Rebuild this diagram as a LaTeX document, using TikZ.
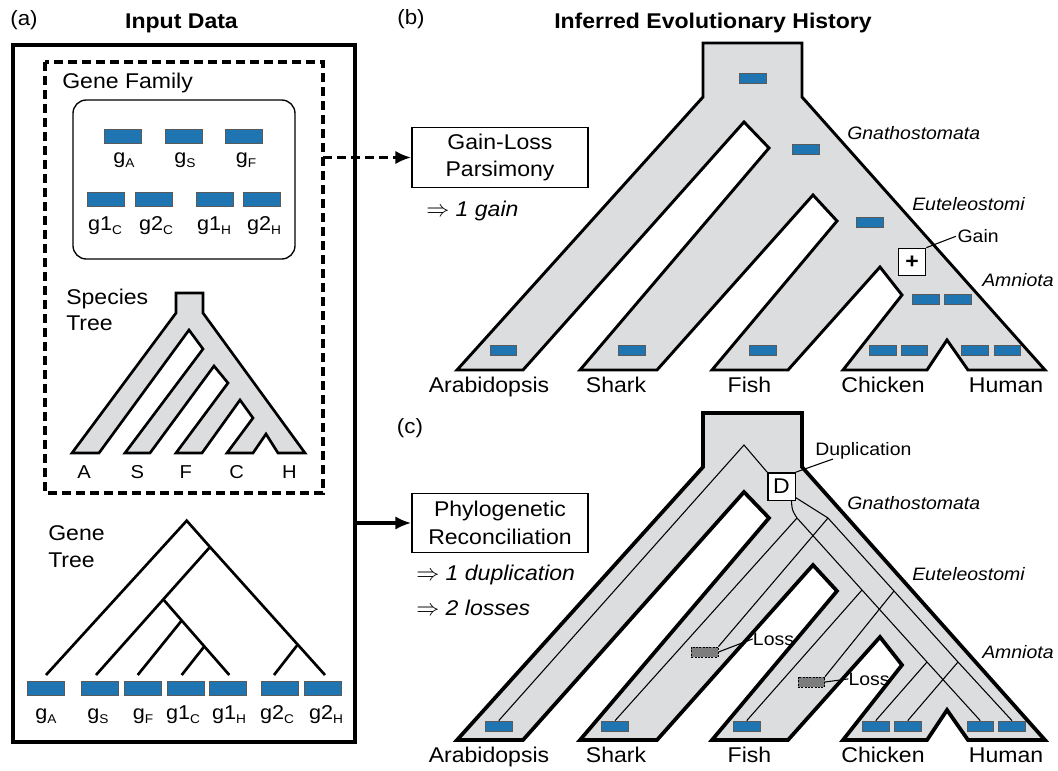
\documentclass[tikz,border=0pt]{standalone}
\usepackage{fontspec}
\setmainfont{Liberation Sans}[FakeStretch=1.08]
\usepackage{tikz}
\usepackage{xcolor}
\usetikzlibrary{arrows.meta,calc}

\definecolor{geneblue}{RGB}{31,117,178}
\definecolor{treegray}{RGB}{220,221,223}
\definecolor{lossgray}{RGB}{125,125,125}
\definecolor{geneedge}{RGB}{90,90,90}
\newcommand{\gsb}[1]{\raisebox{-0.45ex}{\fontsize{9.5}{10}\selectfont #1}}

\begin{document}
\begin{tikzpicture}[x=0.75pt,y=0.75pt,yscale=-1,
  txt/.style={inner sep=0pt,anchor=base,font=\fontsize{16}{19}\selectfont},
  txtw/.style={txt,anchor=base west},
  clade/.style={inner sep=0pt,anchor=base west,font=\fontsize{13.5}{16}\selectfont\itshape},
  note/.style={inner sep=0pt,anchor=base west,font=\fontsize{13.5}{16}\selectfont},
  glab/.style={inner sep=0pt,anchor=base,font=\fontsize{15}{18}\selectfont},
  spec/.style={inner sep=0pt,anchor=base,font=\fontsize{14}{17}\selectfont},
  panel/.style={inner sep=0pt,anchor=base,font=\fontsize{15.5}{18}\selectfont},
  title/.style={inner sep=0pt,anchor=base,font=\fontsize{16}{19}\selectfont\bfseries},
  genea/.style={draw=geneedge,line width=0.5pt,fill=geneblue,minimum width=27.75pt,minimum height=10.5pt,inner sep=0pt},
  geneb/.style={genea,minimum width=20pt,minimum height=7.5pt},
  lossbox/.style={draw,dash pattern=on 1.5pt off 1pt,line width=0.6pt,fill=lossgray,minimum width=20pt,minimum height=7.5pt,inner sep=0pt},
  evbox/.style={draw,line width=1pt,fill=white,minimum width=20.5pt,minimum height=20.5pt,inner sep=0pt,font=\fontsize{16}{19}\selectfont},
  method/.style={draw,line width=0.9pt,fill=white,minimum width=132pt,minimum height=44.5pt,align=center,inner sep=0pt,font=\fontsize{16}{20.5}\selectfont},
  tree/.style={draw,fill=treegray,line join=miter},
  gline/.style={line width=0.8pt},
  thickdash/.style={line width=2.6pt,dash pattern=on 7pt off 3.5pt}]
\useasboundingbox (0,0) rectangle (1058,771);

% Text Node
\node[panel] (pa) at (24,26) {(a)};
% Text Node
\node[title] (tin) at (181.5,28) {Input Data};
% Text Node
\node[panel] (pb) at (411,25) {(b)};
% Text Node
\node[title] (tinf) at (713,28) {Inferred Evolutionary History};
% Text Node
\node[panel] (pc) at (410,433) {(c)};

%Shape: Rectangle
\draw[line width=2.5pt] (13,45) rectangle (355,742);
\coordinate (outR) at (355,523);
%Shape: Rectangle
\draw[thickdash] (45,62) rectangle (323,493);
\coordinate (dashR) at (323,159);

% Text Node
\node[txtw] (gfam) at (62,88) {Gene Family};
%Rounded Rect
\draw[line width=1pt,rounded corners=10pt] (73,100) rectangle (295,259);
\node[genea] (fA) at (123,136) {};
\node[genea] (fS) at (183.5,136) {};
\node[genea] (fF) at (243.5,136) {};
\node[genea] (f1C) at (105.5,199) {};
\node[genea] (f2C) at (153.5,199) {};
\node[genea] (f1H) at (214.5,199) {};
\node[genea] (f2H) at (261.5,199) {};
% Text Node
\node[glab] (lfA) at (124,163) {g\gsb{A}};
\node[glab] (lfS) at (185,163) {g\gsb{S}};
\node[glab] (lfF) at (246,163) {g\gsb{F}};
\node[glab] (lf1C) at (105,230) {g1\gsb{C}};
\node[glab] (lf2C) at (156,230) {g2\gsb{C}};
\node[glab] (lf1H) at (214,230) {g1\gsb{H}};
\node[glab] (lf2H) at (264,230) {g2\gsb{H}};

% Text Node
\node[txtw] (spt1) at (66,304) {Species};
\node[txtw] (spt2) at (66,330.7) {Tree};
%Shape: Polygon
\draw[tree,line width=2pt] (72,453) -- (176,313) -- (176,293) -- (203,293) -- (203,313) -- (305,453) -- (278,453) -- (266,434) -- (253,453) -- (227,453) -- (253,418) -- (240,400) -- (202,453) -- (176,453) -- (228,383) -- (214,366) -- (150,453) -- (125,453) -- (203,349) -- (189,330) -- (99,453) -- cycle;
% Text Node
\node[spec] (sA) at (84,478) {A};
\node[spec] (sS) at (137.3,478) {S};
\node[spec] (sF) at (185.7,478) {F};
\node[spec] (sC) at (236.7,478) {C};
\node[spec] (sH) at (289.3,478) {H};

% Text Node
\node[txtw] (gtr1) at (48,540) {Gene};
\node[txtw] (gtr2) at (48,567.3) {Tree};
%Straight Lines
\coordinate (groota) at (186.7,520.7);
\coordinate (ga1) at (210,547);
\coordinate (ga2) at (163.3,599.4);
\coordinate (ga3) at (181.7,620.5);
\coordinate (ga4) at (204.3,646.4);
\coordinate (ga5) at (297.7,644.6);
\coordinate (tA) at (46,675);
\coordinate (tS) at (96,675);
\coordinate (tF) at (137.7,675);
\coordinate (t1C) at (181.7,675);
\coordinate (t1H) at (229.3,675);
\coordinate (t2C) at (274,675);
\coordinate (t2H) at (325,675);
\draw[line width=2pt] (tA) -- (groota) -- (ga1) -- (ga5) -- (t2H);
\draw[line width=2pt] (ga1) -- (ga2) -- (tS);
\draw[line width=2pt] (ga2) -- (ga3) -- (ga4) -- (t1H);
\draw[line width=2pt] (ga3) -- (tF);
\draw[line width=2pt] (ga4) -- (t1C);
\draw[line width=2pt] (ga5) -- (t2C);
\node[genea] (gA) at (45.5,688.7) {};
\node[genea] (gS) at (99.7,688.7) {};
\node[genea] (gF) at (142.8,688.7) {};
\node[genea] (g1C) at (185.5,688.7) {};
\node[genea] (g1H) at (228,688.7) {};
\node[genea] (g2C) at (279.5,688.7) {};
\node[genea] (g2H) at (322.8,688.7) {};
% Text Node
\node[glab] (lgA) at (46,719) {g\gsb{A}};
\node[glab] (lgS) at (98,719) {g\gsb{S}};
\node[glab] (lgF) at (143,719) {g\gsb{F}};
\node[glab] (lg1C) at (183,719) {g1\gsb{C}};
\node[glab] (lg1H) at (229,719) {g1\gsb{H}};
\node[glab] (lg2C) at (277,719) {g2\gsb{C}};
\node[glab] (lg2H) at (326,719) {g2\gsb{H}};

%Methods
\node[method] (glp) at (500,157.5) {Gain-Loss\\Parsimony};
\node[method] (phr) at (500,523) {Phylogenetic\\Reconciliation};
\draw[thickdash,-{Latex[length=12pt,width=10pt]}] (glp.west -| dashR) -- (glp.west);
\draw[line width=2.5pt,-{Latex[length=12pt,width=10pt]}] (phr.west -| outR) -- (phr.west);
% Text Node
\node[txtw] (rgain) at (426,216.7) {$\Rightarrow$ \textit{1 gain}};
\node[txtw] (rdup) at (416,580) {$\Rightarrow$ \textit{1 duplication}};
\node[txtw] (rloss) at (416,615) {$\Rightarrow$ \textit{2 losses}};

%Shape: Polygon (b)
\draw[tree,line width=2.2pt] (703,43) -- (802,43) -- (802,97) -- (1045,370) -- (968,370) -- (947,340) -- (927,370) -- (843,370) -- (902,295) -- (880,267) -- (788,370) -- (712,370) -- (837,221) -- (813,195) -- (657,370) -- (580,370) -- (769,148) -- (744,122) -- (523,370) -- (457,370) -- (703,97) -- cycle;
\node[geneb] (bR) at (753,78) {};
\node[geneb] (bG) at (806,149) {};
\node[geneb] (bE) at (870,222) {};
\node[geneb] (bM1) at (926,299) {};
\node[geneb] (bM2) at (957.5,299) {};
\node[geneb] (bA) at (503.3,350) {};
\node[geneb] (bS) at (631.7,350) {};
\node[geneb] (bF) at (763,350) {};
\node[geneb] (bC1) at (882.5,350) {};
\node[geneb] (bC2) at (914.3,350) {};
\node[geneb] (bH1) at (975,350) {};
\node[geneb] (bH2) at (1007.3,350) {};
\node[evbox] (gain) at (912,262) {\textbf{+}};
% Text Node
\node[note] (lgain) at (957.3,242.7) {Gain};
\draw[line width=0.8pt] (gain.north east) -- ([xshift=-1pt]lgain.west);
\node[clade] (bgn) at (847,139.3) {Gnathostomata};
\node[clade] (beu) at (912,210.7) {Euteleostomi};
\node[clade] (bam) at (982,286.7) {Amniota};
\node[txt] (bnA) at (489,392) {Arabidopsis};
\node[txt] (bnS) at (616,392) {Shark};
\node[txt] (bnF) at (749.5,392) {Fish};
\node[txt] (bnC) at (883,392) {Chicken};
\node[txt] (bnH) at (1006,392) {Human};

%Shape: Polygon (c)
\draw[tree,line width=2.8pt] (703,413) -- (802,413) -- (802,467) -- (1045,740) -- (968,740) -- (947,710) -- (927,740) -- (843,740) -- (902,665) -- (880,637) -- (788,740) -- (712,740) -- (837,591) -- (813,565) -- (657,740) -- (580,740) -- (769,518) -- (744,492) -- (523,740) -- (457,740) -- (703,467) -- cycle;
\node[geneb] (cA) at (498.7,726) {};
\node[geneb] (cS) at (615,726) {};
\node[geneb] (cF) at (746.7,726) {};
\node[geneb] (cC1) at (875.7,726) {};
\node[geneb] (cC2) at (907.7,726) {};
\node[geneb] (cH1) at (980.3,726) {};
\node[geneb] (cH2) at (1012,726) {};
\node[lossbox] (loss1) at (704.7,652) {};
\node[lossbox] (loss2) at (811.3,682) {};
\node[evbox] (dup) at (781.5,486.5) {D};
%Straight Lines
\coordinate (groot) at (744,445);
\coordinate (xg) at (797,518);
\coordinate (yg) at (828,518);
\coordinate (xe) at (862,590);
\coordinate (ye) at (894,591);
\coordinate (xa) at (927,662);
\coordinate (ya) at (958,662);
\draw[gline] (cA.north) -- (groot) -- (dup.north west);
\draw[gline] (dup.-55) .. controls (792,510) .. (xg) -- (xe) -- (xa) -- (cH1.north);
\draw[gline] (dup.-38) -- (yg) -- (ye) -- (ya) -- (cH2.north);
\draw[gline] (xg) -- (cS.north);
\draw[gline] (yg) -- (loss1.north east);
\draw[gline] (xe) -- (cF.north);
\draw[gline] (ye) -- (loss2.north east);
\draw[gline] (xa) -- (cC1.north);
\draw[gline] (ya) -- (cC2.north);
% Text Node
\node[note] (ldup) at (815,455) {Duplication};
\draw[line width=0.8pt] (dup.north east) -- ($(ldup.south west)+(18,0)$);
\node[note] (lloss1) at (752.7,645) {Loss};
\draw[line width=0.8pt] (loss1.east) -- (lloss1.west);
\node[note] (lloss2) at (848.3,685) {Loss};
\draw[line width=0.8pt] (loss2.east) -- (lloss2.west);
\node[clade] (cgn) at (847,509.5) {Gnathostomata};
\node[clade] (ceu) at (912,580) {Euteleostomi};
\node[clade] (cam) at (982,658.3) {Amniota};
\node[txt] (cnA) at (489,762) {Arabidopsis};
\node[txt] (cnS) at (616,762) {Shark};
\node[txt] (cnF) at (749.5,762) {Fish};
\node[txt] (cnC) at (883,762) {Chicken};
\node[txt] (cnH) at (1006,762) {Human};

\end{tikzpicture}
\end{document}
